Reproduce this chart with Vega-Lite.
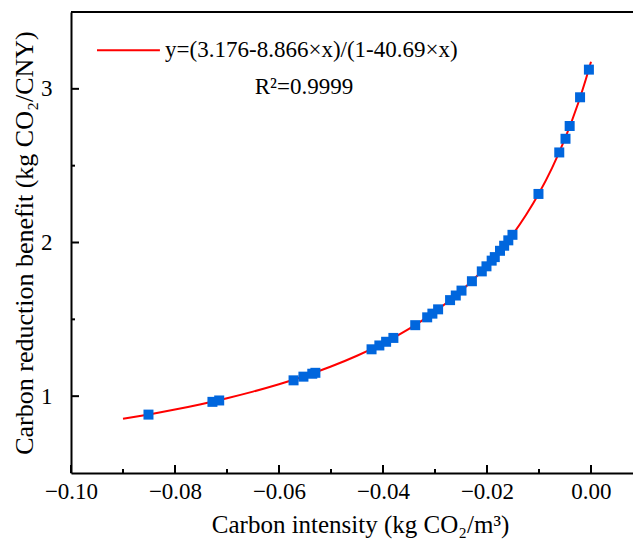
{
  "$schema": "https://vega.github.io/schema/vega-lite/v6.json",
  "width": 562,
  "height": 461,
  "autosize": {"type": "none"},
  "padding": {"left": 71, "top": 12, "right": 0, "bottom": 75},
  "background": "white",
  "config": {
    "view": {"stroke": null},
    "font": "Liberation Serif",
    "axis": {
      "grid": false,
      "domainColor": "black",
      "domainWidth": 2,
      "tickColor": "black",
      "tickWidth": 2,
      "labelFont": "Liberation Serif",
      "labelFontSize": 23,
      "labelColor": "black",
      "titleFont": "Liberation Serif",
      "titleFontSize": 25,
      "titleFontWeight": "normal",
      "titleColor": "black"
    }
  },
  "datasets": {
    "curve": [
      {"x": -0.09, "y": 0.8524},
      {"x": -0.085, "y": 0.8814},
      {"x": -0.08, "y": 0.9131},
      {"x": -0.075, "y": 0.948},
      {"x": -0.07, "y": 0.9866},
      {"x": -0.065, "y": 1.0295},
      {"x": -0.06, "y": 1.0775},
      {"x": -0.055, "y": 1.1315},
      {"x": -0.05, "y": 1.1927},
      {"x": -0.045, "y": 1.2628},
      {"x": -0.04, "y": 1.3437},
      {"x": -0.035, "y": 1.4382},
      {"x": -0.0325, "y": 1.4916},
      {"x": -0.03, "y": 1.55},
      {"x": -0.0275, "y": 1.6139},
      {"x": -0.025, "y": 1.6843},
      {"x": -0.0225, "y": 1.7622},
      {"x": -0.02, "y": 1.8488},
      {"x": -0.0175, "y": 1.9457},
      {"x": -0.015, "y": 2.0548},
      {"x": -0.0125, "y": 2.1787},
      {"x": -0.01, "y": 2.3205},
      {"x": -0.0075, "y": 2.4843},
      {"x": -0.005, "y": 2.6759},
      {"x": -0.0025, "y": 2.9029},
      {"x": -0.001, "y": 3.0604},
      {"x": 0.0, "y": 3.176}
    ],
    "points": [
      {"x": -0.0851, "y": 0.88},
      {"x": -0.0728, "y": 0.963},
      {"x": -0.0715, "y": 0.972},
      {"x": -0.0572, "y": 1.103},
      {"x": -0.0553, "y": 1.127},
      {"x": -0.0536, "y": 1.146},
      {"x": -0.053, "y": 1.152},
      {"x": -0.0422, "y": 1.305},
      {"x": -0.0407, "y": 1.33},
      {"x": -0.0394, "y": 1.354},
      {"x": -0.038, "y": 1.379},
      {"x": -0.0338, "y": 1.462},
      {"x": -0.0315, "y": 1.513},
      {"x": -0.0305, "y": 1.537},
      {"x": -0.0294, "y": 1.565},
      {"x": -0.0271, "y": 1.625},
      {"x": -0.026, "y": 1.655},
      {"x": -0.0249, "y": 1.687},
      {"x": -0.0229, "y": 1.748},
      {"x": -0.021, "y": 1.812},
      {"x": -0.0201, "y": 1.845},
      {"x": -0.0191, "y": 1.882},
      {"x": -0.0185, "y": 1.905},
      {"x": -0.0175, "y": 1.946},
      {"x": -0.0167, "y": 1.979},
      {"x": -0.0159, "y": 2.014},
      {"x": -0.0151, "y": 2.05},
      {"x": -0.0101, "y": 2.316},
      {"x": -0.0061, "y": 2.586},
      {"x": -0.0049, "y": 2.675},
      {"x": -0.0041, "y": 2.758},
      {"x": -0.0021, "y": 2.945},
      {"x": -0.0004, "y": 3.125}
    ],
    "xMajor": [{"t": -0.1}, {"t": -0.08}, {"t": -0.06}, {"t": -0.04}, {"t": -0.02}, {"t": 0.0}],
    "xMinor": [{"t": -0.09}, {"t": -0.07}, {"t": -0.05}, {"t": -0.03}, {"t": -0.01}],
    "yMajor": [{"t": 1}, {"t": 2}, {"t": 3}],
    "yMinor": [{"t": 1.5}, {"t": 2.5}]
  },
  "layer": [
    {
      "data": {"name": "curve"},
      "mark": {"type": "line", "color": "#ff0000", "strokeWidth": 2, "interpolate": "monotone"},
      "encoding": {
        "x": {
          "field": "x",
          "type": "quantitative",
          "scale": {"domain": [-0.1, 0.00808], "nice": false, "zero": false},
          "axis": {
            "orient": "bottom",
            "title": "Carbon intensity (kg CO₂/m³)",
            "titleX": 289,
            "values": [-0.1, -0.08, -0.06, -0.04, -0.02, 0.0],
            "format": ".2f",
            "ticks": false,
            "labelPadding": 7,
            "labelFlush": false,
            "labelOverlap": false,
            "titlePadding": 9
          }
        },
        "y": {
          "field": "y",
          "type": "quantitative",
          "scale": {"domain": [0.5, 3.5], "nice": false, "zero": false},
          "axis": {
            "orient": "left",
            "title": "Carbon reduction benefit  (kg CO₂/CNY)",
            "titleFontSize": 26,
            "values": [1, 2, 3],
            "format": "d",
            "ticks": false,
            "labelPadding": 19,
            "labelFlush": false,
            "labelOverlap": false,
            "titlePadding": 3
          }
        }
      }
    },
    {
      "data": {"name": "xMajor"},
      "mark": {"type": "rule", "color": "black", "strokeWidth": 2},
      "encoding": {
        "x": {"field": "t", "type": "quantitative"},
        "y": {"datum": 0.5},
        "y2": {"datum": 0.5521}
      }
    },
    {
      "data": {"name": "xMinor"},
      "mark": {"type": "rule", "color": "black", "strokeWidth": 2},
      "encoding": {
        "x": {"field": "t", "type": "quantitative"},
        "y": {"datum": 0.5},
        "y2": {"datum": 0.5261}
      }
    },
    {
      "data": {"name": "yMajor"},
      "mark": {"type": "rule", "color": "black", "strokeWidth": 2},
      "encoding": {
        "y": {"field": "t", "type": "quantitative"},
        "x": {"datum": -0.1},
        "x2": {"datum": -0.09846}
      }
    },
    {
      "data": {"name": "yMinor"},
      "mark": {"type": "rule", "color": "black", "strokeWidth": 2},
      "encoding": {
        "y": {"field": "t", "type": "quantitative"},
        "x": {"datum": -0.1},
        "x2": {"datum": -0.09923}
      }
    },
    {
      "data": {"name": "points"},
      "mark": {"type": "point", "shape": "square", "filled": true, "size": 100, "color": "#0066dd", "opacity": 1},
      "encoding": {
        "x": {"field": "x", "type": "quantitative"},
        "y": {"field": "y", "type": "quantitative"}
      }
    },
    {
      "data": {"values": [{}]},
      "mark": {"type": "rule", "color": "#ff0000", "strokeWidth": 2},
      "encoding": {
        "x": {"datum": -0.095},
        "x2": {"datum": -0.0829},
        "y": {"datum": 3.251}
      }
    },
    {
      "data": {"values": [{}]},
      "mark": {"type": "text", "align": "left", "baseline": "middle", "font": "Liberation Serif", "fontSize": 23, "color": "black", "text": "y=(3.176-8.866×x)/(1-40.69×x)"},
      "encoding": {
        "x": {"datum": -0.0819},
        "y": {"datum": 3.251}
      }
    },
    {
      "data": {"values": [{}]},
      "mark": {"type": "text", "align": "center", "baseline": "middle", "font": "Liberation Serif", "fontSize": 23, "color": "black", "text": "R²=0.9999"},
      "encoding": {
        "x": {"datum": -0.0552},
        "y": {"datum": 3.01}
      }
    },
    {
      "data": {"values": [{}]},
      "mark": {"type": "rule", "color": "black", "strokeWidth": 2},
      "encoding": {
        "y": {"datum": 3.5}
      }
    }
  ]
}
